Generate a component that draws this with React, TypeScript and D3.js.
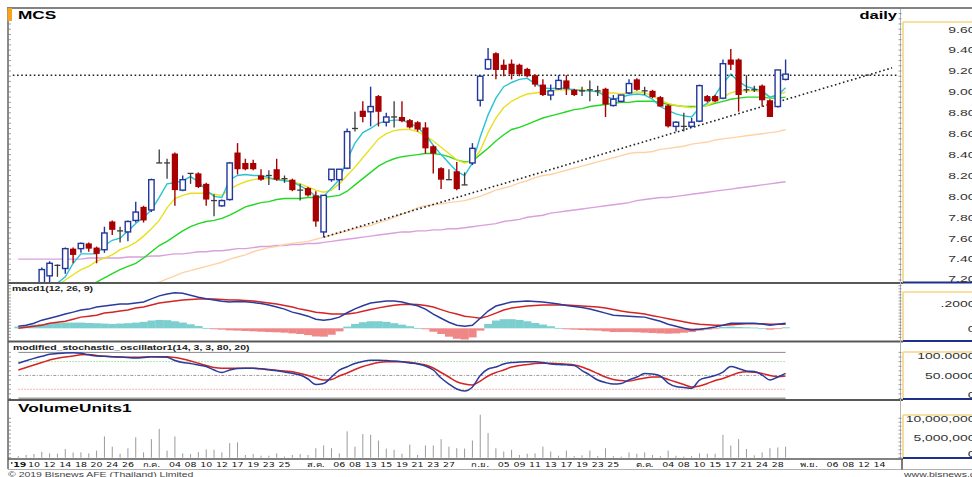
import React from "react";
import * as d3 from "d3";

const W = 972;
const H = 477;
const SX = 1.5;
const FONT = "'Liberation Sans', Arial, 'DejaVu Sans', sans-serif";

// ---------- data ----------
const openP = [7.00,7.05,7.08,7.12,7.24,7.34,7.31,7.50,7.50,7.55,
 7.51,7.49,7.76,7.67,7.66,7.77,7.90,7.87,8.32,8.32,
 8.41,8.06,8.22,8.22,8.12,7.96,7.91,7.97,8.42,8.32,
 8.32,8.20,8.20,8.26,8.17,8.16,8.06,8.08,8.01,7.66,
 8.16,8.16,8.27,8.65,8.82,8.81,8.96,8.71,8.76,8.76,
 8.73,8.71,8.66,8.48,8.27,8.16,8.24,8.11,8.32,8.92,
 9.22,9.37,9.26,9.27,9.26,9.22,9.16,9.07,8.97,9.03,
 9.11,9.02,9.01,9.02,9.01,9.03,8.87,8.91,8.99,9.12,
 9.01,9.01,8.95,8.87,8.67,8.67,8.67,8.72,8.96,8.96,
 8.94,9.31,9.31,9.02,9.02,9.06,8.92,8.86,9.12];
const highP = [7.08,7.12,7.15,7.32,7.38,7.35,7.51,7.51,7.56,7.56,
 7.52,7.71,7.77,7.71,7.77,7.95,7.91,8.17,8.45,8.36,
 8.42,8.20,8.22,8.23,8.13,8.02,7.97,8.33,8.51,8.36,
 8.35,8.26,8.25,8.36,8.20,8.17,8.12,8.09,8.05,8.01,
 8.26,8.26,8.65,8.81,8.91,9.05,8.97,8.80,8.91,8.91,
 8.74,8.72,8.71,8.49,8.28,8.26,8.33,8.23,8.51,9.16,
 9.42,9.38,9.31,9.31,9.27,9.23,9.17,9.12,9.07,9.16,
 9.16,9.03,9.05,9.11,9.06,9.04,8.97,8.97,9.12,9.13,
 9.05,9.02,8.96,8.88,8.72,8.80,8.75,9.07,8.97,8.97,
 9.31,9.41,9.32,9.16,9.06,9.07,8.93,9.21,9.31];
const lowP = [6.95,7.00,7.02,7.10,7.17,7.23,7.26,7.36,7.46,7.47,
 7.36,7.46,7.63,7.56,7.57,7.75,7.75,7.85,8.32,8.17,
 7.91,8.05,8.12,8.08,7.91,7.81,7.90,7.96,8.21,8.25,
 8.25,8.15,8.11,8.15,8.13,8.05,7.96,8.00,7.71,7.61,
 8.14,8.06,8.26,8.62,8.71,8.67,8.67,8.67,8.66,8.71,
 8.65,8.62,8.41,8.22,8.07,8.16,8.06,8.11,8.30,8.86,
 9.21,9.12,9.15,9.12,9.15,9.14,9.05,8.96,8.92,9.02,
 8.97,8.96,8.96,8.91,8.96,8.76,8.86,8.90,8.98,9.01,
 8.97,8.94,8.86,8.66,8.62,8.62,8.66,8.71,8.90,8.90,
 8.93,9.21,8.81,8.99,9.00,8.86,8.76,8.85,9.11];
const closeP = [7.05,7.08,7.12,7.30,7.36,7.34,7.50,7.44,7.55,7.50,
 7.45,7.65,7.68,7.67,7.76,7.85,7.77,8.16,8.32,8.32,
 8.06,8.16,8.22,8.09,7.97,7.96,7.96,8.32,8.26,8.26,
 8.26,8.16,8.20,8.16,8.17,8.06,8.06,8.01,7.76,8.01,
 8.26,8.26,8.62,8.65,8.76,8.86,8.81,8.76,8.76,8.72,
 8.66,8.64,8.46,8.41,8.16,8.16,8.07,8.11,8.46,9.15,
 9.31,9.21,9.21,9.17,9.17,9.15,9.07,8.97,9.01,9.11,
 9.03,8.97,9.01,9.02,9.01,8.88,8.93,8.97,9.08,9.02,
 9.01,8.95,8.86,8.67,8.71,8.67,8.71,9.06,8.91,8.91,
 9.27,9.26,8.97,9.02,9.02,8.92,8.76,9.21,9.17];

const maCyan = [7.00,7.03,7.07,7.12,7.16,7.17,7.23,7.36,7.45,7.45,
 7.45,7.53,7.58,7.60,7.67,7.74,7.80,7.87,7.99,8.12,
 8.13,8.15,8.19,8.14,8.06,8.00,7.99,8.16,8.20,8.21,
 8.20,8.20,8.18,8.16,8.15,8.14,8.10,8.06,8.00,8.00,
 8.08,8.16,8.35,8.51,8.61,8.65,8.70,8.72,8.73,8.73,
 8.70,8.66,8.59,8.49,8.40,8.32,8.24,8.20,8.32,8.57,
 8.78,8.94,9.05,9.09,9.12,9.13,9.08,9.04,9.03,9.04,
 9.03,9.02,9.01,9.01,9.00,8.96,8.93,8.95,8.97,8.98,
 8.97,8.93,8.86,8.82,8.79,8.77,8.76,8.85,8.89,8.97,
 9.08,9.17,9.10,9.05,9.03,9.01,8.95,8.97,9.04];
const maYellow = [6.95,6.98,7.01,7.05,7.09,7.14,7.20,7.25,7.30,7.33,
 7.38,7.41,7.44,7.49,7.52,7.56,7.62,7.69,7.77,7.89,
 7.98,8.01,8.03,8.03,8.03,8.02,8.01,8.07,8.11,8.14,
 8.16,8.17,8.17,8.16,8.16,8.14,8.12,8.09,8.06,8.04,
 8.06,8.12,8.20,8.28,8.37,8.46,8.55,8.60,8.63,8.64,
 8.64,8.62,8.58,8.53,8.47,8.41,8.35,8.32,8.34,8.44,
 8.61,8.75,8.85,8.91,8.95,8.98,8.99,9.00,9.01,9.02,
 9.02,9.02,9.02,9.01,9.00,8.99,8.99,8.98,8.99,9.00,
 8.99,8.96,8.92,8.89,8.87,8.86,8.85,8.86,8.87,8.91,
 8.95,8.99,9.01,9.01,9.01,9.00,8.95,8.97,9.00];
const maGreen = [6.90,6.93,6.96,6.99,7.02,7.05,7.08,7.10,7.12,7.15,
 7.18,7.22,7.26,7.30,7.33,7.36,7.41,7.47,7.53,7.57,
 7.62,7.67,7.71,7.74,7.76,7.77,7.79,7.82,7.86,7.90,
 7.92,7.94,7.95,7.97,7.98,7.98,7.98,7.99,7.99,7.99,
 8.00,8.01,8.05,8.11,8.17,8.23,8.29,8.33,8.36,8.38,
 8.39,8.40,8.41,8.41,8.40,8.38,8.35,8.33,8.34,8.40,
 8.46,8.53,8.59,8.64,8.66,8.69,8.72,8.75,8.77,8.79,
 8.81,8.83,8.84,8.86,8.87,8.88,8.89,8.90,8.90,8.91,
 8.91,8.91,8.90,8.88,8.87,8.86,8.86,8.86,8.87,8.89,
 8.91,8.93,8.94,8.95,8.95,8.95,8.94,8.94,8.95];
const maOrange = [6.95,6.96,6.97,6.98,6.99,7.00,7.01,7.02,7.03,7.04,
 7.05,7.06,7.08,7.09,7.10,7.12,7.13,7.16,7.18,7.21,
 7.24,7.27,7.29,7.31,7.33,7.35,7.37,7.40,7.42,7.44,
 7.47,7.49,7.51,7.52,7.54,7.55,7.56,7.57,7.59,7.61,
 7.63,7.65,7.67,7.69,7.71,7.72,7.75,7.77,7.80,7.83,
 7.86,7.89,7.91,7.92,7.93,7.94,7.95,7.96,7.98,8.00,
 8.03,8.06,8.08,8.10,8.13,8.15,8.18,8.20,8.21,8.23,
 8.25,8.27,8.29,8.31,8.33,8.35,8.37,8.39,8.41,8.42,
 8.42,8.43,8.45,8.46,8.47,8.48,8.50,8.51,8.52,8.54,
 8.55,8.56,8.57,8.58,8.59,8.60,8.61,8.62,8.64];
const maPurple = [7.40,7.40,7.40,7.40,7.40,7.40,7.40,7.40,7.40,7.41,
 7.41,7.41,7.41,7.41,7.42,7.42,7.42,7.43,7.43,7.44,
 7.45,7.45,7.46,7.47,7.47,7.48,7.48,7.49,7.50,7.50,
 7.51,7.52,7.52,7.53,7.53,7.54,7.54,7.55,7.55,7.56,
 7.57,7.58,7.59,7.60,7.61,7.62,7.63,7.64,7.65,7.66,
 7.66,7.67,7.67,7.68,7.68,7.69,7.69,7.70,7.71,7.72,
 7.73,7.74,7.76,7.77,7.78,7.80,7.81,7.82,7.84,7.85,
 7.86,7.87,7.88,7.89,7.90,7.91,7.92,7.93,7.94,7.96,
 7.97,7.98,7.99,7.99,8.00,8.01,8.02,8.03,8.04,8.05,
 8.06,8.07,8.08,8.09,8.10,8.11,8.12,8.13,8.14];

// resistance (horizontal) and support trendline, in bar-index / price space
const resistIdx = [-0.7, 112.3];
const resistVal = [9.16, 9.16];
const trendIdx = [39, 111.6];
const trendVal = [7.61, 9.23];

const macdLine = [0.017,0.025,0.042,0.067,0.083,0.100,0.117,0.133,0.150,0.158,
 0.175,0.183,0.192,0.200,0.200,0.208,0.217,0.242,0.267,0.283,
 0.292,0.288,0.272,0.256,0.243,0.232,0.222,0.217,0.220,0.218,
 0.212,0.205,0.192,0.175,0.158,0.133,0.117,0.100,0.075,0.067,
 0.075,0.092,0.128,0.160,0.185,0.208,0.217,0.225,0.225,0.217,
 0.200,0.185,0.158,0.117,0.083,0.050,0.025,0.017,0.025,0.083,
 0.142,0.183,0.200,0.217,0.221,0.225,0.221,0.217,0.208,0.200,
 0.188,0.180,0.172,0.158,0.142,0.125,0.108,0.104,0.100,0.096,
 0.092,0.075,0.058,0.033,0.017,0.000,-0.013,-0.008,0.000,0.010,
 0.025,0.042,0.042,0.042,0.042,0.036,0.025,0.033,0.042];
const signalLine = [0.000,0.008,0.017,0.025,0.042,0.050,0.058,0.075,0.092,0.100,
 0.108,0.125,0.133,0.142,0.150,0.167,0.175,0.192,0.208,0.217,
 0.225,0.233,0.238,0.242,0.242,0.242,0.238,0.233,0.233,0.229,
 0.225,0.217,0.208,0.200,0.188,0.175,0.158,0.146,0.133,0.125,
 0.117,0.117,0.118,0.125,0.140,0.155,0.168,0.180,0.190,0.196,
 0.198,0.196,0.188,0.175,0.154,0.133,0.117,0.100,0.092,0.083,
 0.100,0.125,0.150,0.167,0.175,0.183,0.188,0.192,0.192,0.192,
 0.192,0.188,0.183,0.179,0.175,0.167,0.154,0.142,0.133,0.125,
 0.117,0.104,0.092,0.079,0.067,0.054,0.042,0.033,0.029,0.025,
 0.025,0.029,0.033,0.038,0.038,0.038,0.033,0.033,0.033];
const macdHist = [0.014,0.022,0.030,0.036,0.042,0.044,0.047,0.047,0.047,0.044,
 0.042,0.039,0.036,0.039,0.042,0.047,0.053,0.064,0.069,0.067,
 0.058,0.047,0.033,0.019,0.003,-0.008,-0.011,-0.017,-0.019,-0.022,
 -0.025,-0.028,-0.031,-0.033,-0.036,-0.042,-0.047,-0.056,-0.067,-0.069,
 -0.053,-0.025,0.014,0.036,0.050,0.058,0.058,0.053,0.042,0.030,
 0.017,0.003,-0.008,-0.028,-0.047,-0.069,-0.086,-0.092,-0.075,-0.019,
 0.036,0.064,0.075,0.075,0.069,0.058,0.044,0.031,0.017,0.003,
 -0.008,-0.011,-0.014,-0.017,-0.019,-0.025,-0.031,-0.031,-0.031,-0.033,
 -0.036,-0.039,-0.042,-0.044,-0.042,-0.036,-0.031,-0.019,-0.011,-0.006,
 0.011,0.014,0.011,0.008,0.006,0.000,-0.011,-0.006,0.008];

const stochK = [76.3,82.0,87.0,91.5,95.8,97.5,98.8,99.3,98.0,94.7,
 92.1,91.5,90.8,90.0,88.7,87.8,88.9,90.4,90.0,89.3,
 82.4,78.0,75.9,72.6,69.4,61.8,56.4,61.8,65.0,65.5,
 65.5,64.4,62.2,60.3,57.4,54.6,50.9,42.3,30.3,32.5,
 46.6,61.8,68.9,75.9,80.2,82.8,83.0,82.2,81.3,79.6,
 77.0,74.8,70.5,61.8,44.4,31.4,20.6,16.3,24.9,50.0,
 64.0,68.3,74.8,78.0,79.1,79.8,79.8,78.0,74.8,73.7,
 73.1,71.5,60.7,50.9,40.1,34.7,31.4,32.5,40.1,46.6,
 54.2,53.1,48.8,33.6,26.0,23.8,22.1,40.1,45.5,49.9,
 57.4,69.4,65.0,59.6,58.5,50.9,40.1,46.6,54.6];
const stochD = [61.8,67.2,72.6,78.0,83.5,87.1,90.0,92.1,94.7,95.4,
 93.2,91.5,90.4,90.0,89.3,89.5,90.0,90.4,90.6,90.6,
 88.9,85.6,81.3,76.3,71.5,67.2,65.5,65.5,65.5,65.5,
 65.5,64.4,62.9,61.3,59.6,58.1,54.2,49.9,44.4,40.1,
 41.2,48.8,55.3,62.9,69.4,74.1,78.0,79.6,79.8,79.8,
 78.7,75.9,72.6,66.1,56.4,46.6,36.4,31.4,29.3,37.9,
 48.8,56.4,61.8,68.3,71.5,73.7,75.9,76.3,76.3,75.4,
 74.4,72.6,68.3,61.8,54.2,46.6,41.2,39.0,37.9,41.2,
 44.4,46.6,46.6,41.2,35.8,30.3,24.9,27.1,32.5,39.0,
 43.4,49.9,55.9,58.1,56.8,54.2,49.9,47.3,48.8];

// volume in millions of shares
const volumeM = [0.4,0.7,0.95,1.5,1.1,1.0,2.2,1.3,1.35,1.1,
 1.8,5.4,2.8,1.0,2.4,5.2,1.35,4.7,7.3,1.8,
 5.4,1.1,0.9,1.4,2.1,2.0,1.35,3.7,3.9,0.7,
 0.9,0.5,0.5,1.1,0.3,0.7,0.9,0.7,2.4,3.1,
 2.4,1.1,6.7,2.8,6.0,5.8,4.35,2.3,2.0,1.0,
 3.3,0.7,3.1,3.1,4.7,2.8,2.4,2.3,4.35,10.9,
 6.25,2.4,1.55,2.0,0.7,1.0,1.1,2.8,1.55,0.5,
 1.8,0.4,0.6,1.8,0.4,2.4,0.4,0.3,1.35,1.0,
 1.35,0.7,0.4,1.8,0.5,0.3,0.4,1.1,1.0,1.0,
 5.8,3.1,4.7,2.2,0.6,1.35,2.4,2.6,2.8];

const xTickIndex = [0,2,4,6,8,10,12,14,17,20,22,24,26,28,30,32,34,38,41,43,45,47,49,51,53,55,59,62,64,66,68,70,72,74,76,80,83,85,87,89,91,93,95,97,101,104,106,108,110];
const xTickLabel = ["'19","10","12","14","18","20","24","26","ก.ค.","04","08","10","12","17","19","23","25","ส.ค.","06","08","13","15","19","21","23","27","ก.ย.","05","09","11","13","17","19","23","25","ต.ค.","04","08","10","15","17","21","24","28","พ.ย.","06","08","12","14"];

const priceTicks = [7.2,7.4,7.6,7.8,8.0,8.2,8.4,8.6,8.8,9.0,9.2,9.4,9.6];
const macdTicks = [0, 0.2];
const stochTicks = [0, 50, 100];
const volTicks = [0, 5, 10];

// ---------- helpers ----------
function SText(props: any) {
  const { x, y, size, weight, anchor, fill, children, family } = props;
  return (
    <text
      transform={`translate(${x},${y}) scale(${SX},1)`}
      fontSize={size}
      fontWeight={weight || "normal"}
      textAnchor={anchor || "start"}
      fill={fill || "#000"}
      fontFamily={family || FONT}
    >
      {children}
    </text>
  );
}

const BLUE = "#22379b";
const RED = "#a80000";
const DOJI = "#3a3a3a";

export default function App() {
  const n = closeP.length;
  const x = d3.scaleLinear().domain([0, 98]).range([18.3, 785.6]);
  const step = x(1) - x(0);
  const yP = d3.scaleLinear().domain([7.2, 9.6]).range([280, 29.2]);
  const yM = d3.scaleLinear().domain([0, 0.2]).range([328.3, 304]);
  const yS = d3.scaleLinear().domain([0, 100]).range([398.5, 352.4]);
  const yV = d3.scaleLinear().domain([0, 10]).range([457.7, 418.3]);

  const lineP = d3.line<number>().x((_, i) => x(i)).y((d) => yP(d));
  const lineM = d3.line<number>().x((_, i) => x(i)).y((d) => yM(d));
  const lineS = d3.line<number>().x((_, i) => x(i)).y((d) => yS(d)).curve(d3.curveMonotoneX);
  const segP = (idx: number[], vals: number[]) =>
    d3.line<number>().x((d) => x(d)).y((_, i) => yP(vals[i]))(idx) || "";

  const PLOT_R = 900;
  const boxL = 903;
  const LABEL_R = 975.5;

  const panels = [
    { top: 22, bottom: 282.5, sepY: 283 },
    { top: 292, bottom: 341, sepY: 341.5 },
    { top: 352, bottom: 399, sepY: 400 },
    { top: 415, bottom: 458, sepY: 459 },
  ];

  const clampLabel = (y: number, top: number, bottom: number) =>
    Math.min(Math.max(y, top + 4), bottom - 4);

  const rulerP = d3.range(7.2, 9.81, 0.05).map((v) => yP(v));
  const rulerM = d3.range(-0.1, 0.36, 0.025).map((v) => yM(v)).filter((y) => y > 285 && y < 340);
  const rulerS = d3.range(0, 101, 10).map((v) => yS(v));
  const rulerV = d3.range(0, 11, 1).map((v) => yV(v));
  const ruler = [...rulerP, ...rulerM, ...rulerS, ...rulerV];

  return (
    <svg
      width={W}
      height={H}
      viewBox={`0 0 ${W} ${H}`}
      style={{ position: "absolute", left: 0, top: 0, background: "#fff" }}
    >
      <defs>
        <clipPath id="cMain"><rect x={9} y={9} width={PLOT_R - 9} height={273} /></clipPath>
        <clipPath id="cMacd"><rect x={9} y={284} width={PLOT_R - 9} height={56} /></clipPath>
        <clipPath id="cStoch"><rect x={9} y={343} width={PLOT_R - 9} height={56} /></clipPath>
        <clipPath id="cVol"><rect x={9} y={401} width={PLOT_R - 9} height={57} /></clipPath>
      </defs>
      <rect x={0} y={0} width={W} height={H} fill="#fff" />

      {/* ---------- MAIN PANEL ---------- */}
      <g clipPath="url(#cMain)">
        <path d={lineP(maPurple) || ""} fill="none" stroke="#d9a0dc" strokeWidth={1.4} />
        <path d={lineP(maOrange) || ""} fill="none" stroke="#ffd2a6" strokeWidth={1.4} />
        <path d={lineP(maGreen) || ""} fill="none" stroke="#22d822" strokeWidth={1.4} />
        <path d={lineP(maYellow) || ""} fill="none" stroke="#e8e01c" strokeWidth={1.4} />
        <path d={lineP(maCyan) || ""} fill="none" stroke="#2ac3d3" strokeWidth={1.4} />
        <path d={segP(resistIdx, resistVal)} fill="none" stroke="#222" strokeWidth={1.6} strokeDasharray="1.6,2.6" />
        <path d={segP(trendIdx, trendVal)} fill="none" stroke="#222" strokeWidth={1.6} strokeDasharray="1.6,2.6" />
        {closeP.map((c, i) => {
          const o = openP[i];
          const h = highP[i];
          const l = lowP[i];
          const cx = x(i);
          const bw = 5.4;
          if (Math.abs(c - o) < 0.001) {
            return (
              <g key={i} stroke={DOJI} strokeWidth={1.3}>
                <line x1={cx} x2={cx} y1={yP(h)} y2={yP(l)} />
                <line x1={cx - 3} x2={cx + 3} y1={yP(o)} y2={yP(o)} />
              </g>
            );
          }
          if (c > o) {
            const yt = yP(c);
            const yb = yP(o);
            return (
              <g key={i} stroke={BLUE} strokeWidth={1.4}>
                <line x1={cx} x2={cx} y1={yP(h)} y2={yt} />
                <line x1={cx} x2={cx} y1={yb} y2={yP(l)} />
                <rect x={cx - bw / 2} y={yt} width={bw} height={Math.max(yb - yt, 1)} fill="#fff" />
              </g>
            );
          }
          const yt = yP(o);
          const yb = yP(c);
          return (
            <g key={i}>
              <line x1={cx} x2={cx} y1={yP(h)} y2={yP(l)} stroke={RED} strokeWidth={1.4} />
              <rect x={cx - bw / 2 - 0.4} y={yt} width={bw + 0.8} height={Math.max(yb - yt, 1.5)} fill={RED} />
            </g>
          );
        })}
      </g>

      {/* ---------- MACD PANEL ---------- */}
      <g clipPath="url(#cMacd)">
        {macdHist.map((v, i) => (
          <rect
            key={i}
            x={x(i) - step / 2}
            width={step + 0.3}
            y={v >= 0 ? yM(v) : yM(0)}
            height={Math.max(Math.abs(yM(v) - yM(0)), 0.8)}
            fill={v >= 0 ? "#7ccfce" : "#f08787"}
          />
        ))}
        <path d={lineM(signalLine) || ""} fill="none" stroke="#d42424" strokeWidth={1.5} />
        <path d={lineM(macdLine) || ""} fill="none" stroke="#2a3b9c" strokeWidth={1.5} />
      </g>

      {/* ---------- STOCH PANEL ---------- */}
      <g clipPath="url(#cStoch)">
        <line x1={x(0)} x2={x(n - 1)} y1={yS(100)} y2={yS(100)} stroke="#8a8a8a" strokeWidth={1} />
        <line x1={x(0)} x2={x(n - 1)} y1={yS(80)} y2={yS(80)} stroke="#8fe08f" strokeWidth={1} strokeDasharray="1.5,1.5" />
        <line x1={x(0)} x2={x(n - 1)} y1={yS(50)} y2={yS(50)} stroke="#9a9a9a" strokeWidth={1} strokeDasharray="3,1.5,1,1.5" />
        <line x1={x(0)} x2={x(n - 1)} y1={yS(20)} y2={yS(20)} stroke="#f3a0a0" strokeWidth={1} strokeDasharray="1.5,1.5" />
        <line x1={x(0)} x2={x(n - 1)} y1={yS(0)} y2={yS(0)} stroke="#a0a0a0" strokeWidth={2} />
        <path d={lineS(stochD) || ""} fill="none" stroke="#d42424" strokeWidth={1.5} />
        <path d={lineS(stochK) || ""} fill="none" stroke="#2a3b9c" strokeWidth={1.5} />
      </g>

      {/* ---------- VOLUME PANEL ---------- */}
      <g clipPath="url(#cVol)">
        {volumeM.map((v, i) => (
          <line key={i} x1={x(i)} x2={x(i)} y1={yV(0)} y2={yV(v)} stroke="#9a9a9a" strokeWidth={1} />
        ))}
      </g>

      {/* ---------- FRAME ---------- */}
      <line x1={7} x2={W} y1={8} y2={8} stroke="#5a5a5a" strokeWidth={1.6} />
      <line x1={8} x2={8} y1={8} y2={469} stroke="#5a5a5a" strokeWidth={1.4} />
      {panels.map((p, k) => (
        <g key={k}>
          <line x1={8} x2={boxL} y1={p.sepY} y2={p.sepY} stroke="#585858" strokeWidth={k === 3 ? 1.5 : 2} />
          <line x1={boxL} x2={W} y1={p.top} y2={p.top} stroke="#f3d683" strokeWidth={1.6} />
          <line x1={boxL} x2={boxL} y1={p.top} y2={p.bottom} stroke="#f3d683" strokeWidth={1.6} />
          <line x1={boxL} x2={W} y1={p.bottom} y2={p.bottom} stroke="#1f2f8c" strokeWidth={2} />
        </g>
      ))}
      <line x1={900.5} x2={900.5} y1={9} y2={458} stroke="#b5b5b5" strokeWidth={1} />
      {ruler.map((y, k) => (
        <g key={k} stroke="#777" strokeWidth={0.7}>
          <line x1={8} x2={11} y1={y} y2={y} />
          <line x1={898.5} x2={901.5} y1={y} y2={y} />
        </g>
      ))}
      <rect x={7.5} y={8} width={4.5} height={13} fill="#f6a31d" />

      {/* x-axis */}
      <line x1={8} x2={W} y1={469.5} y2={469.5} stroke="#b0b0b0" strokeWidth={1} />
      <line x1={902} x2={902} y1={459} y2={469.5} stroke="#444" strokeWidth={1.4} />
      {xTickIndex.map((ti, k) => (
        <SText key={k} x={x(ti)} y={467} size={6.3} anchor="middle" fill="#111" weight={k === 0 ? "bold" : "normal"}
          family="'DejaVu Sans', 'Liberation Sans', sans-serif">
          {xTickLabel[k]}
        </SText>
      ))}

      {/* right-axis labels */}
      {priceTicks.map((v) => (
        <SText key={v} x={LABEL_R} y={clampLabel(yP(v), panels[0].top, panels[0].bottom) + 3.3} size={9.3} anchor="end" fill="#333">
          {v.toFixed(2)}
        </SText>
      ))}
      {macdTicks.map((v) => (
        <SText key={v} x={LABEL_R} y={clampLabel(yM(v), panels[1].top, panels[1].bottom) + 3.3} size={9.3} anchor="end" fill="#333">
          {v === 0 ? "0" : v.toFixed(4).replace(/^0/, "")}
        </SText>
      ))}
      {stochTicks.map((v) => (
        <SText key={v} x={LABEL_R} y={clampLabel(yS(v), panels[2].top, panels[2].bottom) + 3.3} size={9.3} anchor="end" fill="#333">
          {v === 0 ? "0" : v.toFixed(4)}
        </SText>
      ))}
      {volTicks.map((v) => (
        <SText key={v} x={LABEL_R} y={clampLabel(yV(v), panels[3].top, panels[3].bottom) + 3.3} size={9.3} anchor="end" fill="#333">
          {v === 0 ? "0" : d3.format(",")(v * 1e6)}
        </SText>
      ))}

      {/* titles */}
      <SText x={18} y={18.6} size={11.5} weight="bold">MCS</SText>
      <SText x={897} y={19} size={11} weight="bold" anchor="end">daily</SText>
      <SText x={12} y={291} size={7} weight="bold" fill="#222">macd1(12, 26, 9)</SText>
      <SText x={13} y={349.5} size={7} weight="bold" fill="#222">modified_stochastic_oscillator1(14, 3, 3, 80, 20)</SText>
      <SText x={18} y={411.8} size={11.5} weight="bold">VolumeUnits1</SText>
      <SText x={8} y={476.5} size={7} fill="#444">© 2019 Bisnews AFE (Thailand) Limited</SText>
      <SText x={904} y={476.5} size={7} fill="#444">www.bisnews.com</SText>
    </svg>
  );
}
